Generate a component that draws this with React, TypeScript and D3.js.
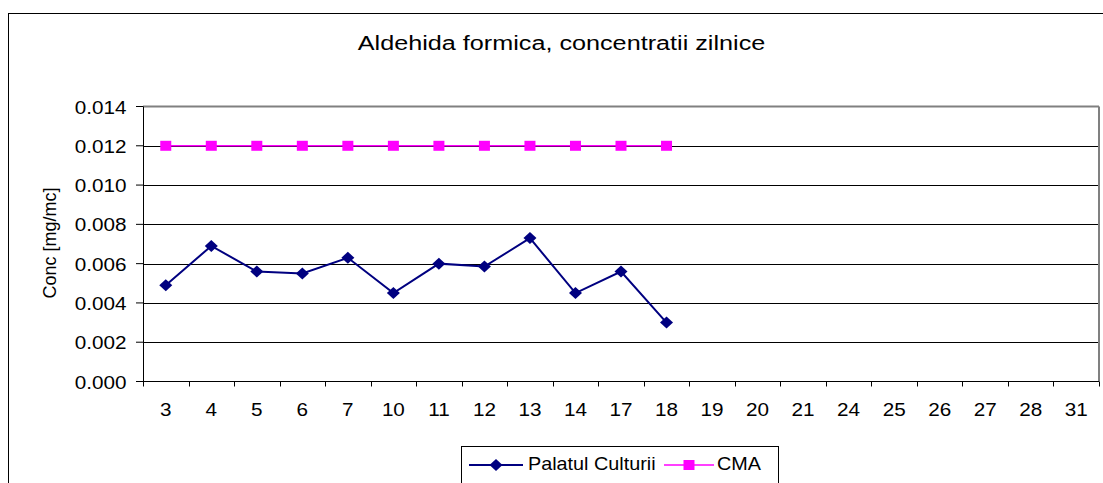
import React from 'react';
import * as d3 from 'd3';

const days = ['3', '4', '5', '6', '7', '10', '11', '12', '13', '14', '17', '18', '19', '20', '21', '24', '25', '26', '27', '28', '31'];
const palatul = [0.0049, 0.0069, 0.0056, 0.0055, 0.0063, 0.0045, 0.0060, 0.00585, 0.0073, 0.0045, 0.0056, 0.0030];
const cma = [0.012, 0.012, 0.012, 0.012, 0.012, 0.012, 0.012, 0.012, 0.012, 0.012, 0.012, 0.012];
const yTicks = [0, 0.002, 0.004, 0.006, 0.008, 0.010, 0.012, 0.014];
const seriesNames = ['Palatul Culturii', 'CMA'];

const W = 1103;
const H = 483;
const FONT = '"Liberation Sans", Arial, sans-serif';

// testo leggermente allargato come nell'immagine originale
const Txt = ({x, y, sx = 1.15, size = 18, anchor = 'start', children}: any) => (
    <text
        transform={`translate(${x},${y}) scale(${sx},1)`}
        fontSize={size}
        fontFamily={FONT}
        textAnchor={anchor}
        fill="#000"
    >
        {children}
    </text>
);

const Diamond = ({x, y}: {x: number; y: number}) => (
    <path d={`M${x},${y - 6} L${x + 6.5},${y} L${x},${y + 6} L${x - 6.5},${y} Z`} fill="#000080"/>
);

const Square = ({x, y}: {x: number; y: number}) => (
    <rect x={x - 5.5} y={y - 5} width={11} height={10} fill="#FF00FF"/>
);

export default function App() {
    const left = 143;
    const right = 1099;
    const top = 106.5;
    const bottom = 381.5;

    const x = d3.scaleBand<string>().domain(days).range([left, right]).paddingInner(0).paddingOuter(0);
    const y = d3.scaleLinear().domain([0, 0.014]).range([bottom, top]);
    const cx = (d: string) => (x(d) || 0) + x.bandwidth() / 2;

    const line = d3.line<number>()
        .x((_, i) => cx(days[i]))
        .y(d => y(d));

    const boundaries = days.map(d => x(d) || 0).concat([right]);

    return (
        <svg width={W} height={H} style={{position: 'absolute', left: 0, top: 0, background: '#fff'}}>
            <rect x={0} y={0} width={W} height={H} fill="#fff"/>
            {/* bordo esterno */}
            <rect x={8.5} y={13.5} width={W} height={H} fill="none" stroke="#000" strokeWidth={1}/>

            <Txt x={561.5} y={50} size={21} sx={1.2} anchor="middle">Aldehida formica, concentratii zilnice</Txt>

            {/* griglia */}
            {yTicks.filter(t => t > 0 && t < 0.014).map(t => (
                <line key={t} x1={left} x2={right} y1={Math.round(y(t)) + 0.5} y2={Math.round(y(t)) + 0.5} stroke="#000" strokeWidth={1}/>
            ))}
            {/* bordo area grafico */}
            <line x1={left} x2={right} y1={top} y2={top} stroke="#808080" strokeWidth={2}/>
            <line x1={right} x2={right} y1={top} y2={bottom} stroke="#808080" strokeWidth={2}/>

            {/* assi */}
            <line x1={left + 0.5} x2={left + 0.5} y1={top} y2={bottom} stroke="#000" strokeWidth={1}/>
            <line x1={left} x2={right} y1={bottom} y2={bottom} stroke="#000" strokeWidth={1.2}/>

            {yTicks.map(t => (
                <g key={t}>
                    <line x1={left - 7} x2={left} y1={y(t)} y2={y(t)} stroke="#000" strokeWidth={1}/>
                    <Txt x={126.5} y={y(t) + 7} anchor="end">{t.toFixed(3)}</Txt>
                </g>
            ))}

            {boundaries.map((b, i) => (
                <line key={i} x1={Math.round(b) + 0.5} x2={Math.round(b) + 0.5} y1={bottom} y2={bottom + 5} stroke="#000" strokeWidth={1}/>
            ))}
            {days.map(d => (
                <Txt key={d} x={cx(d)} y={416} anchor="middle">{d}</Txt>
            ))}

            <text
                transform="translate(56,243) rotate(-90)"
                fontSize={18}
                fontFamily={FONT}
                textAnchor="middle"
            >
                Conc [mg/mc]
            </text>

            {/* serie */}
            <path d={line(cma) || ''} fill="none" stroke="#FF00FF" strokeWidth={1.5}/>
            {cma.map((v, i) => <Square key={i} x={cx(days[i])} y={y(v)}/>)}
            <path d={line(palatul) || ''} fill="none" stroke="#000080" strokeWidth={2}/>
            {palatul.map((v, i) => <Diamond key={i} x={cx(days[i])} y={y(v)}/>)}

            {/* legenda */}
            <rect x={461.5} y={446.5} width={317} height={60} fill="#fff" stroke="#000" strokeWidth={1}/>
            <line x1={469} x2={523} y1={465} y2={465} stroke="#000080" strokeWidth={2}/>
            <Diamond x={496} y={465}/>
            <Txt x={528} y={469.5} sx={1.1}>{seriesNames[0]}</Txt>
            <line x1={664} x2={714} y1={465} y2={465} stroke="#FF00FF" strokeWidth={1.5}/>
            <Square x={689} y={465}/>
            <Txt x={717} y={469.5} sx={1.1}>{seriesNames[1]}</Txt>
        </svg>
    );
}
